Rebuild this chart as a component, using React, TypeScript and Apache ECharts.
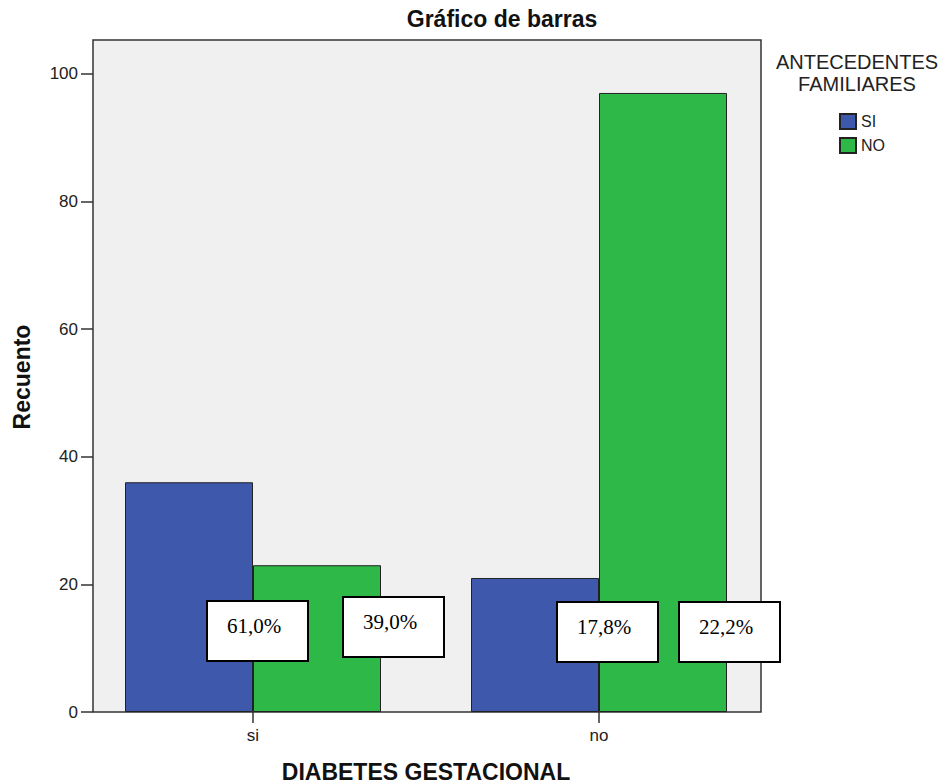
import React, { useEffect, useRef } from "react";
import * as echarts from "echarts";

const categories = ["si", "no"];
const seriesNames = ["SI", "NO"];
const valuesSI = [36, 21];
const valuesNO = [23, 97];
const yTicks = [0, 20, 40, 60, 80, 100];
const percentLabels = ["61,0%", "39,0%", "17,8%", "22,2%"];

// annotation box layout (pixel positions of the pasted text boxes)
const boxLayout = [
  { x: 207, y: 601 },
  { x: 343, y: 597 },
  { x: 557, y: 602 },
  { x: 679, y: 602 },
];

const W = 947;
const H = 784;
const plotLeft = 93;
const plotRight = 761;
const plotTop = 40;
const plotBottom = 712;
const band = 346;
const firstCenter = 253;
const yMax = 105.3;

export default function App() {
  const ref = useRef<HTMLDivElement>(null);
  useEffect(() => {
    document.body.style.margin = "0";
    const chart = echarts.init(ref.current!, null, { renderer: "svg" });
    const barsLeft = firstCenter - band / 2;
    const barsRight = barsLeft + band * categories.length;
    const boxes: any[] = [];
    boxLayout.forEach((b, i) => {
      boxes.push({
        type: "rect",
        shape: { x: b.x, y: b.y, width: 101, height: 60 },
        style: { fill: "#ffffff", stroke: "#000000", lineWidth: 2 },
        z: 100,
      });
      boxes.push({
        type: "text",
        x: b.x + 20,
        y: b.y + 25,
        style: {
          text: percentLabels[i],
          font: '21px "Liberation Serif", "Times New Roman", serif',
          fill: "#000",
          align: "left",
          verticalAlign: "middle",
        },
        z: 101,
      });
    });
    chart.setOption({
      animation: false,
      backgroundColor: "#ffffff",
      grid: [
        {
          left: plotLeft,
          top: plotTop,
          width: plotRight - plotLeft,
          height: plotBottom - plotTop,
          show: true,
          backgroundColor: "#F0F0F0",
          borderColor: "#333333",
          borderWidth: 1.5,
        },
        {
          left: barsLeft,
          top: plotTop,
          width: barsRight - barsLeft,
          height: plotBottom - plotTop,
        },
      ],
      xAxis: [
        { type: "category", gridIndex: 0, data: categories, show: false },
        {
          type: "category",
          gridIndex: 1,
          data: categories,
          axisLine: { show: false },
          axisTick: {
            show: true,
            alignWithLabel: true,
            length: 11,
            lineStyle: { color: "#333", width: 1.5 },
          },
          axisLabel: { fontSize: 17, color: "#222", margin: 15, fontFamily: "Liberation Sans, Arial, sans-serif" },
        },
      ],
      yAxis: [
        {
          type: "value",
          gridIndex: 0,
          min: 0,
          max: yMax,
          interval: 20,
          splitLine: { show: false },
          axisLine: { show: false },
          axisTick: {
            show: true,
            length: 12,
            customValues: yTicks,
            lineStyle: { color: "#333", width: 1.5 },
          },
          axisLabel: {
            fontSize: 17,
            color: "#222",
            margin: 15,
            customValues: yTicks,
            fontFamily: "Liberation Sans, Arial, sans-serif",
          },
        },
        { type: "value", gridIndex: 1, min: 0, max: yMax, show: false },
      ],
      legend: {
        orient: "vertical",
        left: 834,
        top: 108,
        itemWidth: 16,
        itemHeight: 15,
        itemGap: 7,
        icon: "rect",
        data: seriesNames,
        textStyle: { fontSize: 16, color: "#222", fontFamily: "Liberation Sans, Arial, sans-serif" },
      },
      series: [
        {
          name: seriesNames[0],
          type: "bar",
          xAxisIndex: 1,
          yAxisIndex: 1,
          data: valuesSI,
          barWidth: 128,
          barGap: "0%",
          itemStyle: { color: "#3E58AC", borderColor: "#222", borderWidth: 1 },
        },
        {
          name: seriesNames[1],
          type: "bar",
          xAxisIndex: 1,
          yAxisIndex: 1,
          data: valuesNO,
          barWidth: 128,
          barGap: "0%",
          itemStyle: { color: "#2EB848", borderColor: "#222", borderWidth: 1 },
        },
      ],
      graphic: [
        {
          type: "text",
          x: 502,
          y: 19,
          style: {
            text: "Gráfico de barras",
            font: 'bold 23px "Liberation Sans", Arial, sans-serif',
            fill: "#111",
            align: "center",
            verticalAlign: "middle",
          },
        },
        {
          type: "text",
          x: 426,
          y: 772,
          style: {
            text: "DIABETES GESTACIONAL",
            font: 'bold 23px "Liberation Sans", Arial, sans-serif',
            fill: "#111",
            align: "center",
            verticalAlign: "middle",
          },
        },
        {
          type: "text",
          x: 22,
          y: 377,
          rotation: Math.PI / 2,
          style: {
            text: "Recuento",
            font: 'bold 23px "Liberation Sans", Arial, sans-serif',
            fill: "#111",
            align: "center",
            verticalAlign: "middle",
          },
        },
        {
          type: "text",
          x: 857,
          y: 62,
          style: {
            text: "ANTECEDENTES",
            font: '20px "Liberation Sans", Arial, sans-serif',
            fill: "#222",
            align: "center",
            verticalAlign: "middle",
          },
        },
        {
          type: "text",
          x: 857,
          y: 84,
          style: {
            text: "FAMILIARES",
            font: '20px "Liberation Sans", Arial, sans-serif',
            fill: "#222",
            align: "center",
            verticalAlign: "middle",
          },
        },
        ...boxes,
      ],
    });
    return () => chart.dispose();
  }, []);
  return <div ref={ref} style={{ width: W, height: H }} />;
}
